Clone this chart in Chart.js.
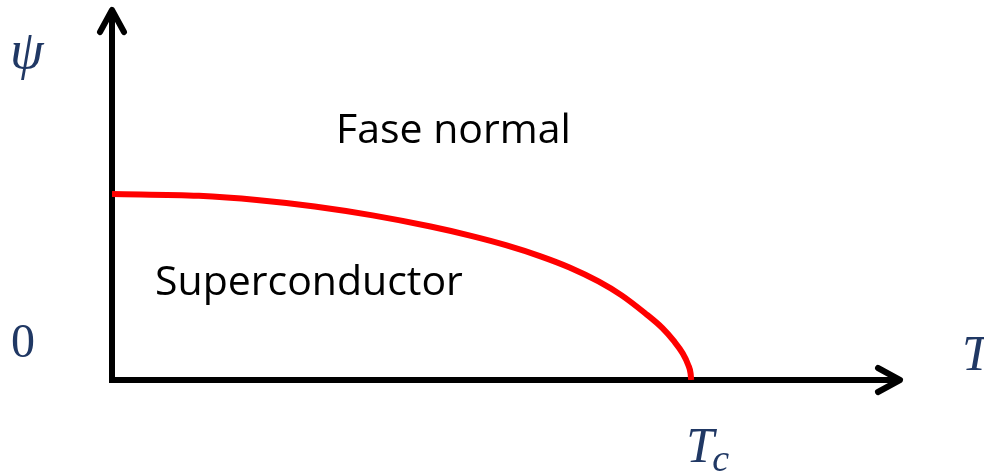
<!DOCTYPE html>
<html>
<head>
<meta charset="utf-8">
<style>
  html, body { margin: 0; padding: 0; background: #ffffff; }
  #wrap { width: 984px; height: 472px; }
</style>
<script src="https://cdn.jsdelivr.net/npm/chart.js@4/dist/chart.umd.min.js"></script>
</head>
<body>
<div id="wrap"><canvas id="phaseChart" width="984" height="472"></canvas></div>
<script>
'use strict';

// temperature as fraction of Tc, order parameter
var tempValues = [0, 0.15, 0.25, 0.35, 0.45, 0.55, 0.62, 0.68, 0.74, 0.79, 0.84, 0.88, 0.92, 0.95, 0.97, 0.985, 0.995, 0.999, 1.0];
var psiValues  = [1.0, 0.99, 0.968, 0.933, 0.885, 0.825, 0.775, 0.725, 0.665, 0.605, 0.53, 0.455, 0.36, 0.28, 0.21, 0.145, 0.08, 0.035, 0];
var regionLabels = ['Fase normal', 'Superconductor'];
var axisLabels = { y: 'ψ', zero: '0', x: 'T', crit: 'T', critSub: 'c' };

var mathColor = '#203864';

(function () {
    var points = [];
    var i;
    for (i = 0; i < tempValues.length; i++) {
        points.push({ x: tempValues[i], y: psiValues[i] });
    }

    // draws the arrows and all text labels on top of the hidden scales
    var diagramPlugin = {
        id: 'diagram',
        beforeDatasetsDraw: function (chart) {
            var ctx = chart.ctx;
            var xs = chart.scales.x, ys = chart.scales.y;
            var x0 = xs.getPixelForValue(0), y0 = ys.getPixelForValue(0);
            var xEnd = xs.right, yEnd = ys.top;

            ctx.save();
            ctx.strokeStyle = '#000000';
            ctx.lineWidth = 6;
            ctx.lineJoin = 'round';

            ctx.beginPath();
            ctx.lineCap = 'butt';
            ctx.moveTo(x0, y0 + 3);
            ctx.lineTo(x0, yEnd + 2);
            ctx.moveTo(x0 - 3, y0);
            ctx.lineTo(xEnd - 2, y0);
            ctx.stroke();

            ctx.lineCap = 'round';
            ctx.beginPath();
            ctx.moveTo(x0 - 12, yEnd + 24);
            ctx.lineTo(x0, yEnd + 2);
            ctx.lineTo(x0 + 12, yEnd + 24);
            ctx.moveTo(xEnd - 24, y0 - 12);
            ctx.lineTo(xEnd - 2, y0);
            ctx.lineTo(xEnd - 24, y0 + 12);
            ctx.stroke();
            ctx.restore();
        },
        afterDatasetsDraw: function (chart) {
            var ctx = chart.ctx;
            var xs = chart.scales.x;

            ctx.save();
            ctx.fillStyle = '#000000';
            ctx.textBaseline = 'alphabetic';
            ctx.textAlign = 'left';
            ctx.font = '41px "Open Sans", "Liberation Sans", sans-serif';
            ctx.fillText(regionLabels[0], 336, 143);
            ctx.fillText(regionLabels[1], 155, 295);

            ctx.fillStyle = mathColor;
            ctx.font = 'italic 54px "Liberation Serif", "DejaVu Serif", serif';
            ctx.fillText(axisLabels.y, 10, 68);
            ctx.font = '48px "Liberation Serif", "DejaVu Serif", serif';
            ctx.fillText(axisLabels.zero, 11, 357);
            ctx.font = 'italic 50px "Liberation Serif", "DejaVu Serif", serif';
            ctx.fillText(axisLabels.x, 962, 370);

            var tcX = xs.getPixelForValue(1);
            ctx.fillText(axisLabels.crit, tcX - 5, 462);
            ctx.font = 'italic 38px "Liberation Serif", "DejaVu Serif", serif';
            ctx.fillText(axisLabels.critSub, tcX + 21, 471);
            ctx.restore();
        }
    };

    var ctx = document.getElementById('phaseChart');
    var phaseChart = new Chart(ctx, {
        type: 'scatter',
        data: {
            datasets: [{
                data: points,
                showLine: true,
                borderColor: '#ff0000',
                borderWidth: 6,
                pointRadius: 0,
                cubicInterpolationMode: 'monotone',
                fill: false
            }]
        },
        options: {
            responsive: false,
            animation: false,
            devicePixelRatio: 1,
            layout: { padding: { left: 112, right: 82, top: 8, bottom: 92 } },
            plugins: {
                legend: { display: false },
                tooltip: { enabled: false }
            },
            scales: {
                x: { type: 'linear', min: 0, max: 1.364, display: false },
                y: { type: 'linear', min: 0, max: 2.0, display: false }
            }
        },
        plugins: [diagramPlugin]
    });
})();
</script>
</body>
</html>
